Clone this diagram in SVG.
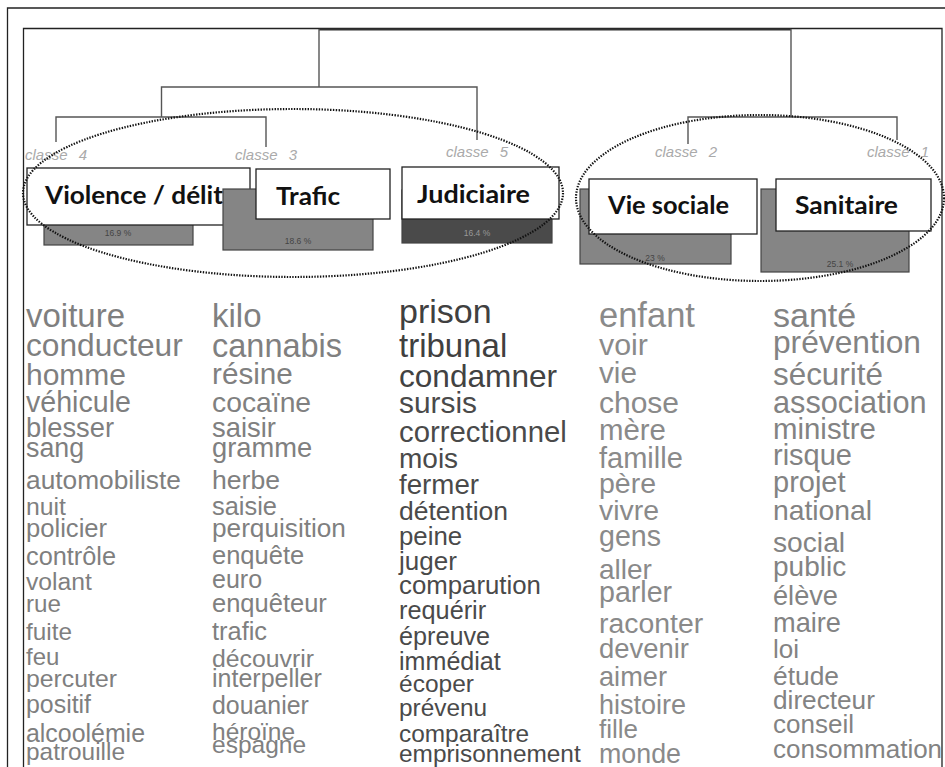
<svg xmlns="http://www.w3.org/2000/svg" width="945" height="767" viewBox="0 0 945 767">
<style>
.frame{fill:none;stroke:#222;stroke-width:1.3}
.dend{fill:none;stroke:#555;stroke-width:1.4}
.cls{font-family:"Liberation Sans",Arial,sans-serif;font-style:italic;font-size:15px;fill:#aaa;word-spacing:7px}
.bar{fill:#858585;stroke:#444;stroke-width:1.2}
.bar.dark{fill:#4a4a4a}
.pct{font-family:"Liberation Sans",Arial,sans-serif;font-size:8.5px;fill:#444;text-anchor:middle}
.pct.lt{fill:#999}
.lbl{fill:#fff;stroke:#222;stroke-width:1.3}
.lt1{font-family:Lato,"Open Sans",sans-serif;font-weight:bold;font-size:24px;fill:#111}
.ell{fill:none;stroke:#111;stroke-width:2.2;stroke-dasharray:1.4 1.4}
.w{font-family:"Liberation Sans",Arial,sans-serif}
.c1{fill:#7f7f7f}.c2{fill:#808080}.c3{fill:#4a4a4a}.c4{fill:#8a8a8a}.c5{fill:#838383}
</style>
<rect width="945" height="767" fill="#fff"/>
<!-- frames -->
<g id="frames">
<polyline class="frame" points="7.5,767 7.5,8 945,8"/>
<polyline class="frame" points="23.5,767 23.5,28.5 942,28.5 942,767"/>
</g>
<!-- dendrogram connectors -->
<g id="connectors">
<line class="dend" x1="319" y1="29.5" x2="791" y2="29.5" style="stroke-width:2.2;stroke:#333"/>
<polyline class="dend" points="319,29 319,87"/>
<polyline class="dend" points="161.5,117 161.5,87 477,87 477,140"/>
<polyline class="dend" points="56,142 56,117 266,117 266,147"/>
<polyline class="dend" points="791,29 791,117"/>
<polyline class="dend" points="688,144 688,117 897,117 897,140"/>
</g>
<!-- class nodes -->
<g id="classe4">
<text class="cls" x="25" y="160">classe 4</text>
<rect class="bar" x="44" y="185" width="149" height="60"/>
<text class="pct" x="118" y="236">16.9 %</text>
<rect class="lbl" x="27" y="168" width="223" height="57"/>
<text class="lt1" x="45" y="204" textLength="178" lengthAdjust="spacingAndGlyphs">Violence / délit</text>
</g>
<g id="classe3">
<text class="cls" x="235" y="160">classe 3</text>
<rect class="bar" x="223" y="189" width="150" height="61"/>
<text class="pct" x="298" y="244">18.6 %</text>
<rect class="lbl" x="256" y="169" width="134" height="50"/>
<text class="lt1" x="276" y="205" textLength="64" lengthAdjust="spacingAndGlyphs">Trafic</text>
</g>
<g id="classe5">
<text class="cls" x="446" y="157">classe 5</text>
<rect class="bar dark" x="402" y="190" width="150" height="53"/>
<text class="pct lt" x="477" y="236">16.4 %</text>
<rect class="lbl" x="402" y="167" width="157" height="52"/>
<text class="lt1" x="417" y="203" textLength="113" lengthAdjust="spacingAndGlyphs">Judiciaire</text>
</g>
<g id="classe2">
<text class="cls" x="655" y="157">classe 2</text>
<rect class="bar" x="580" y="189" width="151" height="75"/>
<text class="pct" x="655" y="261">23 %</text>
<rect class="lbl" x="589" y="179" width="168" height="55"/>
<text class="lt1" x="608" y="214" textLength="121" lengthAdjust="spacingAndGlyphs">Vie sociale</text>
</g>
<g id="classe1">
<text class="cls" x="867" y="157">classe 1</text>
<rect class="bar" x="761" y="189" width="148" height="83"/>
<text class="pct" x="840" y="267">25.1 %</text>
<rect class="lbl" x="776" y="179" width="155" height="52"/>
<text class="lt1" x="795" y="214" textLength="103" lengthAdjust="spacingAndGlyphs">Sanitaire</text>
</g>
<!-- grouping ellipses -->
<g id="groups">
<ellipse class="ell" cx="293" cy="193" rx="270" ry="84"/>
<ellipse class="ell" cx="760" cy="198" rx="184" ry="83"/>
</g>
<!-- word columns -->
<g id="words-classe4" class="w c1">
<text x="26" y="326.7" font-size="33">voiture</text>
<text x="26" y="356" font-size="31.7">conducteur</text>
<text x="26" y="385" font-size="30">homme</text>
<text x="26" y="411.7" font-size="28.6">véhicule</text>
<text x="26" y="436.7" font-size="27.3">blesser</text>
<text x="26" y="456.7" font-size="26.8">sang</text>
<text x="26" y="489" font-size="26.3">automobiliste</text>
<text x="26" y="515" font-size="24.8">nuit</text>
<text x="26" y="536.7" font-size="25.6">policier</text>
<text x="26" y="565" font-size="25.3">contrôle</text>
<text x="26" y="590" font-size="24.7">volant</text>
<text x="26" y="611.7" font-size="24.2">rue</text>
<text x="26" y="640" font-size="24.3">fuite</text>
<text x="26" y="665" font-size="24">feu</text>
<text x="26" y="686.7" font-size="24.8">percuter</text>
<text x="26" y="713" font-size="24.9">positif</text>
<text x="26" y="741.7" font-size="24.9">alcoolémie</text>
<text x="26" y="760" font-size="24.4">patrouille</text>
</g>
<g id="words-classe3" class="w c2">
<text x="212" y="326.7" font-size="33">kilo</text>
<text x="212" y="356.7" font-size="32.5">cannabis</text>
<text x="212" y="384" font-size="29.7">résine</text>
<text x="212" y="411.7" font-size="28.3">cocaïne</text>
<text x="212" y="436.7" font-size="27.4">saisir</text>
<text x="212" y="456.7" font-size="27.3">gramme</text>
<text x="212" y="489" font-size="26.6">herbe</text>
<text x="212" y="515" font-size="25.4">saisie</text>
<text x="212" y="537" font-size="26.2">perquisition</text>
<text x="212" y="564" font-size="25.5">enquête</text>
<text x="212" y="588" font-size="25">euro</text>
<text x="212" y="612" font-size="25.5">enquêteur</text>
<text x="212" y="640" font-size="25.4">trafic</text>
<text x="212" y="667" font-size="24.8">découvrir</text>
<text x="212" y="687" font-size="25">interpeller</text>
<text x="212" y="714" font-size="24.9">douanier</text>
<text x="212" y="740" font-size="24.5">héroïne</text>
<text x="212" y="753" font-size="24.5">espagne</text>
</g>
<g id="words-classe5" class="w c3">
<text x="399" y="323.3" font-size="34" fill="#404040">prison</text>
<text x="399" y="356.7" font-size="33" fill="#404040">tribunal</text>
<text x="399" y="386.7" font-size="31.6" fill="#424242">condamner</text>
<text x="399" y="413" font-size="29.9">sursis</text>
<text x="399" y="441.7" font-size="29.3">correctionnel</text>
<text x="399" y="468" font-size="28">mois</text>
<text x="399" y="494" font-size="27.7">fermer</text>
<text x="399" y="520" font-size="26.5">détention</text>
<text x="399" y="545" font-size="25.8">peine</text>
<text x="399" y="570" font-size="26">juger</text>
<text x="399" y="594" font-size="25.8">comparution</text>
<text x="399" y="619" font-size="25.3">requérir</text>
<text x="399" y="645" font-size="25.2">épreuve</text>
<text x="399" y="670" font-size="25.1">immédiat</text>
<text x="399" y="692" font-size="24.5">écoper</text>
<text x="399" y="716" font-size="24.4">prévenu</text>
<text x="399" y="742" font-size="24.4">comparaître</text>
<text x="399" y="762" font-size="24.4">emprisonnement</text>
</g>
<g id="words-classe2" class="w c4">
<text x="599" y="326.7" font-size="34.5">enfant</text>
<text x="599" y="355" font-size="30.4">voir</text>
<text x="599" y="383" font-size="29.7">vie</text>
<text x="599" y="412.7" font-size="30">chose</text>
<text x="599" y="440" font-size="29.4">mère</text>
<text x="599" y="468" font-size="29">famille</text>
<text x="599" y="492.7" font-size="28.5">père</text>
<text x="599" y="520" font-size="28.4">vivre</text>
<text x="599" y="546" font-size="28.6">gens</text>
<text x="599" y="579" font-size="28">aller</text>
<text x="599" y="602" font-size="28.6">parler</text>
<text x="599" y="633" font-size="28.4">raconter</text>
<text x="599" y="658" font-size="27.4">devenir</text>
<text x="599" y="686" font-size="27.2">aimer</text>
<text x="599" y="714" font-size="27">histoire</text>
<text x="599" y="738" font-size="26">fille</text>
<text x="599" y="763" font-size="26.8">monde</text>
</g>
<g id="words-classe1" class="w c5">
<text x="773" y="326.7" font-size="34">santé</text>
<text x="773" y="353" font-size="31.7">prévention</text>
<text x="773" y="385" font-size="31.4">sécurité</text>
<text x="773" y="412.7" font-size="30.7">association</text>
<text x="773" y="439" font-size="29.4">ministre</text>
<text x="773" y="465" font-size="29">risque</text>
<text x="773" y="491.7" font-size="29">projet</text>
<text x="773" y="520" font-size="28.3">national</text>
<text x="773" y="551.7" font-size="28.2">social</text>
<text x="773" y="576" font-size="28">public</text>
<text x="773" y="605" font-size="27.2">élève</text>
<text x="773" y="632" font-size="27.2">maire</text>
<text x="773" y="658" font-size="26">loi</text>
<text x="773" y="685" font-size="26.4">étude</text>
<text x="773" y="709" font-size="26.2">directeur</text>
<text x="773" y="733" font-size="26">conseil</text>
<text x="773" y="758" font-size="26">consommation</text>
</g>
</svg>
